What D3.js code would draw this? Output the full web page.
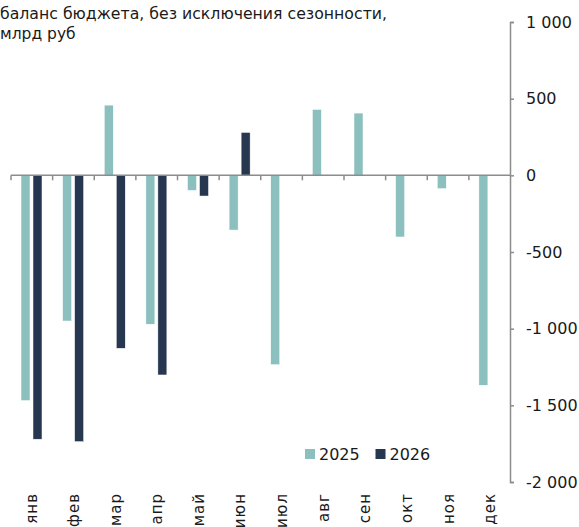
<!DOCTYPE html>
<html lang="ru">
  <head>
    <meta charset="utf-8">
    <title>Баланс бюджета</title>
    <style>
      body { margin: 0; background: #fff; }
      svg { display: block; font-family: "DejaVu Sans", sans-serif; }
    </style>
    <script src="https://cdn.jsdelivr.net/npm/d3@7"></script>
  </head>
  <body>
    <div id="viz"></div>
    <script>
    // data, bln rub
    var months = ['янв', 'фев', 'мар', 'апр', 'май', 'июн', 'июл', 'авг', 'сен', 'окт', 'ноя', 'дек'];
    var series = ['2025', '2026'];
    var values2025 = [-1469, -950, 458, -971, -98, -357, -1235, 430, 406, -402, -87, -1369];
    var values2026 = [-1721, -1737, -1128, -1302, -135, 280, null, null, null, null, null, null];
    var colors = ['#8bc0bf', '#26374f'];
    var yTicks = [1000, 500, 0, -500, -1000, -1500, -2000];
    var titleLines = ['баланс бюджета, без исключения сезонности,', 'млрд руб'];

    var width = 579, height = 527;

    var svg = d3.select('#viz')
        .append('svg')
        .attr('width', width)
        .attr('height', height);

    var x = d3.scaleBand()
        .domain(months)
        .range([11, 510.5]);

    var x1 = d3.scaleBand()
        .domain(series)
        .range([10, 31])
        .paddingInner(0.25);

    var y = d3.scaleLinear()
        .domain([-2000, 1000])
        .range([482, 22]);

    var ru = d3.formatLocale({decimal: ',', thousands: '\u00a0', grouping: [3], currency: ['', ''], minus: '-'});
    var fmt = ru.format(',d');

    // title
    svg.append('text')
        .attr('x', 0)
        .attr('y', 19)
        .attr('font-size', 15.5)
        .attr('textLength', 387)
        .attr('lengthAdjust', 'spacingAndGlyphs')
        .attr('fill', '#1a1a1a')
        .text(titleLines[0]);
    svg.append('text')
        .attr('x', 0)
        .attr('y', 39)
        .attr('font-size', 15.5)
        .attr('fill', '#1a1a1a')
        .text(titleLines[1]);

    // bars
    var rows = months.map(function(m, i) {
      return {month: m, vals: [values2025[i], values2026[i]]};
    });

    var groups = svg.append('g')
      .selectAll('g')
      .data(rows)
      .enter()
      .append('g')
        .attr('transform', function(d) { return 'translate(' + x(d.month) + ',0)'; });

    groups.selectAll('rect')
      .data(function(d) {
        return d.vals.map(function(v, j) { return {key: series[j], v: v, c: colors[j]}; })
          .filter(function(e) { return e.v !== null; });
      })
      .enter()
      .append('rect')
        .attr('x', function(d) { return x1(d.key); })
        .attr('width', x1.bandwidth())
        .attr('y', function(d) { return y(Math.max(0, d.v)); })
        .attr('height', function(d) { return Math.abs(y(d.v) - y(0)); })
        .attr('fill', function(d) { return d.c; })
        .attr('stroke', '#fff')
        .attr('stroke-width', 0.5);

    // zero line with category ticks
    svg.append('line')
      .attr('x1', x.range()[0]).attr('x2', x.range()[1])
      .attr('y1', y(0)).attr('y2', y(0))
      .attr('stroke', '#8c8c8c')
      .attr('stroke-width', 1.5);

    svg.append('g')
      .selectAll('line')
      .data(months)
      .enter()
      .append('line')
        .attr('x1', function(d) { return x(d); })
        .attr('x2', function(d) { return x(d); })
        .attr('y1', y(0))
        .attr('y2', y(0) + 5)
        .attr('stroke', '#8c8c8c')
        .attr('stroke-width', 1.5);

    // month labels, rotated
    svg.append('g')
      .selectAll('text')
      .data(months)
      .enter()
      .append('text')
        .attr('transform', function(d) {
          return 'translate(' + (x(d) + x.bandwidth() / 2 + 5.5) + ',493) rotate(-90)';
        })
        .attr('text-anchor', 'end')
        .attr('font-size', 15)
        .attr('letter-spacing', 1)
        .attr('fill', '#1a1a1a')
        .text(function(d) { return d; });

    // right y axis
    var yAxis = d3.axisRight(y)
        .tickValues(yTicks)
        .tickSize(4)
        .tickPadding(12)
        .tickFormat(fmt);

    var ya = svg.append('g')
        .attr('transform', 'translate(510,0)')
        .call(yAxis);

    ya.select('.domain').attr('stroke', '#8c8c8c').attr('stroke-width', 1.5);
    ya.selectAll('.tick line').attr('stroke', '#8c8c8c').attr('stroke-width', 1.5);
    ya.selectAll('.tick text')
        .attr('font-size', 16)
        .attr('font-family', '"DejaVu Sans", sans-serif')
        .attr('fill', '#1a1a1a');

    // legend
    var legend = svg.append('g')
        .attr('transform', 'translate(305,449)');

    var items = legend.selectAll('g')
      .data(series)
      .enter()
      .append('g')
        .attr('transform', function(d, i) { return 'translate(' + (i * 70.5) + ',0)'; });

    items.append('rect')
        .attr('width', 10)
        .attr('height', 10)
        .attr('fill', function(d, i) { return colors[i]; });

    items.append('text')
        .attr('x', 14)
        .attr('y', 10.5)
        .attr('font-size', 16)
        .attr('fill', '#1a1a1a')
        .text(function(d) { return d; });
    </script>
  </body>
</html>
